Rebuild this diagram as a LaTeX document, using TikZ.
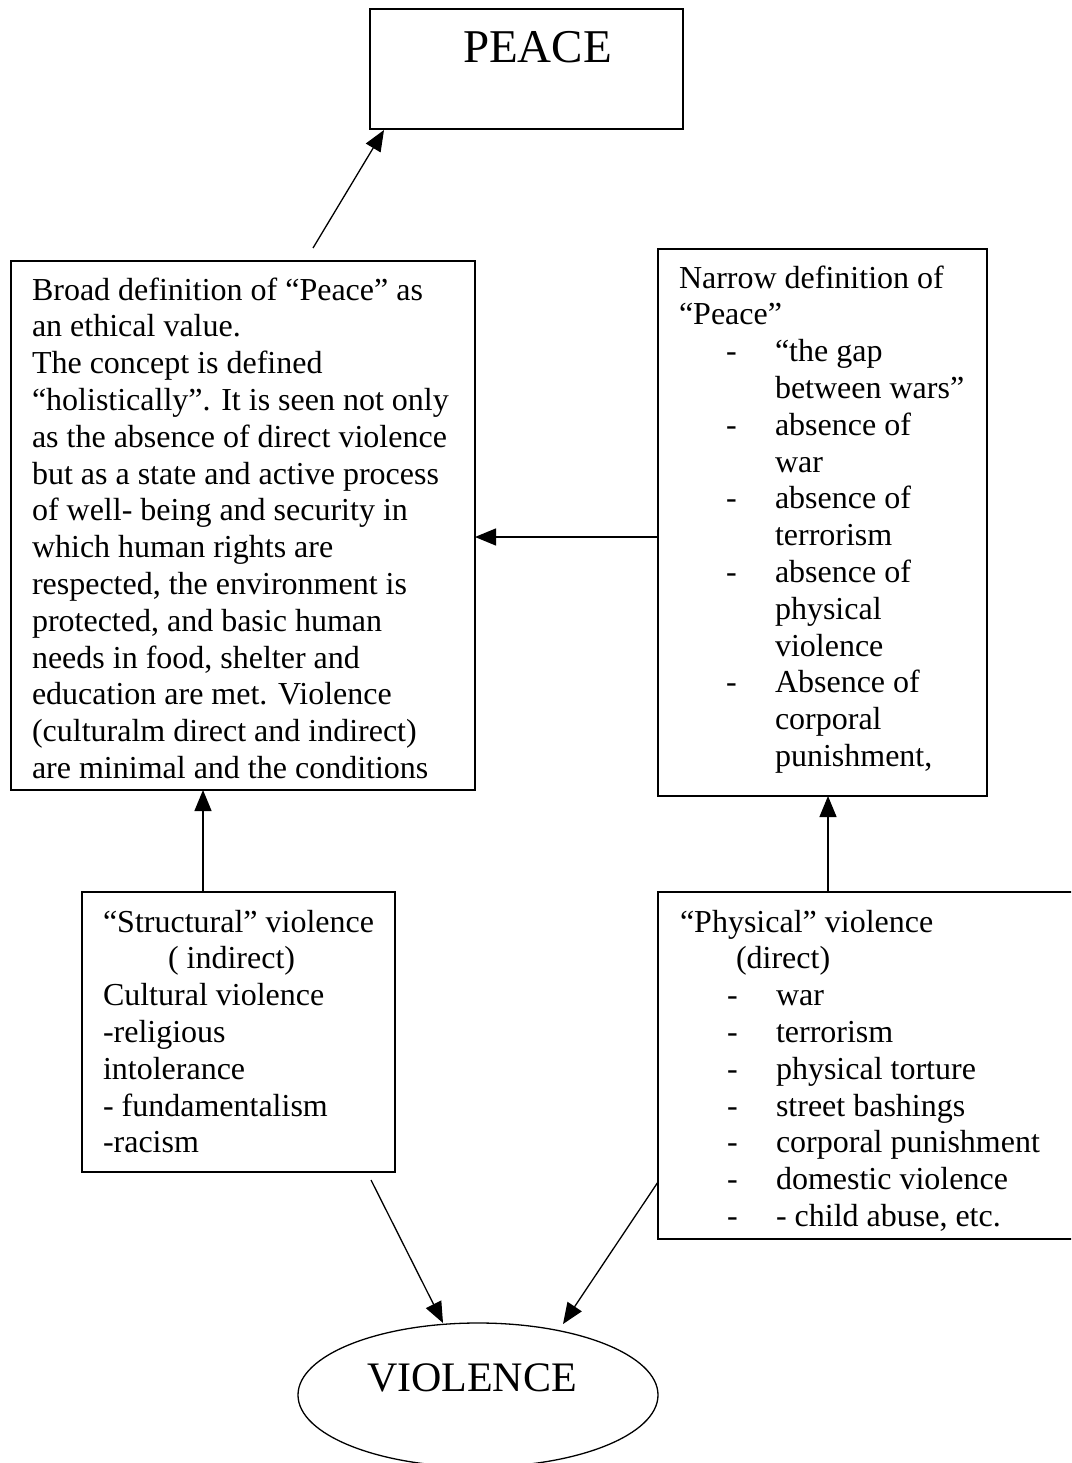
\documentclass[tikz,border=0pt]{standalone}
\usepackage{fontspec}
\setmainfont{Liberation Serif}
\usetikzlibrary{arrows.meta,shapes.geometric,calc}
% a block of left-aligned lines whose baseline is that of its first line
\newcommand\rows[1]{\vtop{\halign{##\hfil\cr#1\crcr}}}
% a dashed list entry and its continuation lines
\newcommand\dashitem[1]{\hskip47pt\makebox[49pt][l]{-}#1}
\newcommand\itemcont[1]{\hskip96pt #1}

\begin{document}
\begin{tikzpicture}[x=1pt,y=-1pt,
  box/.style={draw, rectangle, line width=1.3pt, inner sep=0pt, outer sep=0pt},
  body/.style={inner sep=0pt, outer sep=0pt, anchor=base west,
               font=\fontsize{32}{36.8}\selectfont},
  title/.style={inner sep=0pt, outer sep=0pt, anchor=base west},
  arr/.style={line width=1.3pt, -{Triangle[length=21pt,width=17pt]}},
]
\useasboundingbox (0,0) rectangle (1071,1463);
\clip (0,0) rectangle (1071,1463);
\fill[white] (0,0) rectangle (1071,1463);

% boxes
\node[box, minimum width=313pt, minimum height=120pt] (peace) at (526.5,69) {};
\node[box, minimum width=464pt, minimum height=529pt] (broad) at (243,525.5) {};
\node[box, minimum width=329pt, minimum height=547pt] (narrow) at (822.5,522.5) {};
\node[box, minimum width=313pt, minimum height=280pt] (structural) at (238.5,1032) {};
\node[box, minimum width=427pt, minimum height=347pt] (physical) at (871.5,1065.5) {};
\node[draw, ellipse, line width=1.3pt, minimum width=360pt, minimum height=144pt,
      inner sep=0pt, outer sep=0pt] (violence) at (478,1395) {};

% texts
\node[title, font=\fontsize{47}{54}\selectfont] (peacetext)
  at ([shift={(93pt,-54pt)}]peace.north west) {PEACE};
\node[title, font=\fontsize{42}{48}\selectfont] (violencetext)
  at ([shift={(-111pt,4pt)}]violence.center) {VIOLENCE};

\node[body] (broadtext) at ([shift={(21pt,-39pt)}]broad.north west) {\rows{%
Broad definition of “Peace” as\cr
an ethical value.\cr
The concept is defined\cr
“holistically”. It is seen not only\cr
as the absence of direct violence\cr
but as a state and active process\cr
of well- being and security in\cr
which human rights are\cr
respected, the environment is\cr
protected, and basic human\cr
needs in food, shelter and\cr
education are met. Violence\cr
(culturalm direct and indirect)\cr
are minimal and the conditions}};

\node[body] (narrowtext) at ([shift={(21pt,-39pt)}]narrow.north west) {\rows{%
Narrow definition of\cr
“Peace”\cr
\dashitem{“the gap}\cr
\itemcont{between wars”}\cr
\dashitem{absence of}\cr
\itemcont{war}\cr
\dashitem{absence of}\cr
\itemcont{terrorism}\cr
\dashitem{absence of}\cr
\itemcont{physical}\cr
\itemcont{violence}\cr
\dashitem{Absence of}\cr
\itemcont{corporal}\cr
\itemcont{punishment,}}};

\node[body] (structuraltext) at ([shift={(21pt,-40pt)}]structural.north west) {\rows{%
“Structural” violence\cr
\hskip65pt( indirect)\cr
Cultural violence\cr
-religious\cr
intolerance\cr
- fundamentalism\cr
-racism}};

\node[body] (physicaltext) at ([shift={(22pt,-40pt)}]physical.north west) {\rows{%
“Physical” violence\cr
\hskip56pt(direct)\cr
\dashitem{war}\cr
\dashitem{terrorism}\cr
\dashitem{physical torture}\cr
\dashitem{street bashings}\cr
\dashitem{corporal punishment}\cr
\dashitem{domestic violence}\cr
\dashitem{- child abuse, etc.}}};

% connectors
\coordinate (peacetail) at (313,248);
\draw[arr] (peacetail) -- ([shift={(14pt,-1pt)}]peace.south west);

\coordinate (nb) at ([yshift=-14.5pt]narrow.west);
\draw[arr] (nb) -- (nb -| broad.east);

\coordinate (sb) at ([xshift=-35.5pt]structural.north);
\draw[arr] (sb) -- (sb |- broad.south);

\coordinate (pn) at ([xshift=5.5pt]narrow.south);
\draw[arr] (pn |- physical.north) -- (pn);

\coordinate (stail) at (371,1180);
\draw[arr] (stail) -- ([xshift=-35pt]violence.north);

\coordinate (ptail) at ([yshift=-116.5pt]physical.west);
\draw[arr] (ptail) -- ([shift={(85pt,-1pt)}]violence.north);
\end{tikzpicture}
\end{document}
